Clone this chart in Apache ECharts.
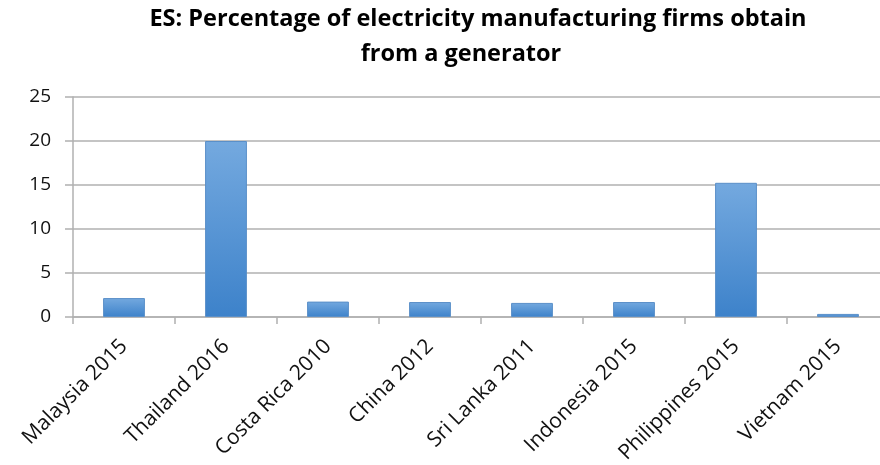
<!DOCTYPE html>
<html>
<head>
<meta charset="utf-8">
<script src="https://cdn.jsdelivr.net/npm/echarts@6/dist/echarts.min.js"></script>
<style>
  html, body { margin: 0; padding: 0; background: #ffffff; }
  #chart { width: 880px; height: 465px; }
</style>
</head>
<body>
<div id="chart"></div>
<script>
// Enterprise Survey: share of electricity that manufacturing firms obtain from a generator (%)
const categories = [
  'Malaysia 2015', 'Thailand 2016', 'Costa Rica 2010', 'China 2012',
  'Sri Lanka 2011', 'Indonesia 2015', 'Philippines 2015', 'Vietnam 2015'
];
const generatorShare = [2.15, 20.0, 1.75, 1.7, 1.6, 1.7, 15.25, 0.35];
const yTicks = [0, 5, 10, 15, 20, 25];

const titleLines = [
  'ES: Percentage of electricity manufacturing firms obtain',
  'from a generator'
];

const chart = echarts.init(document.getElementById('chart'), null, { renderer: 'canvas' });

const gridColor = '#b0b0b0';
const labelFont = '"Open Sans", "Liberation Sans", sans-serif';
const titleStyle = {
  fontFamily: '"Open Sans", sans-serif',
  fontWeight: 'bold',
  fontSize: 23.5,
  color: '#000000'
};

chart.setOption({
  animation: false,
  backgroundColor: '#ffffff',
  title: [
    { text: titleLines[0], left: 473, top: 2, textAlign: 'center', textStyle: titleStyle },
    { text: titleLines[1], left: 456, top: 37, textAlign: 'center', textStyle: titleStyle }
  ],
  grid: {
    left: 73,
    top: 97,
    width: 816,
    height: 220,
    containLabel: false,
    outerBoundsMode: 'none'
  },
  xAxis: {
    type: 'category',
    data: categories,
    boundaryGap: true,
    axisLine: { show: true, lineStyle: { color: gridColor, width: 1.5 } },
    axisTick: { show: true, alignWithLabel: false, length: 7, lineStyle: { color: gridColor, width: 1.5 } },
    axisLabel: {
      interval: 0,
      rotate: 45,
      margin: 26,
      fontFamily: labelFont,
      fontSize: 21,
      color: '#111111'
    },
    splitLine: { show: false }
  },
  yAxis: {
    type: 'value',
    min: yTicks[0],
    max: yTicks[yTicks.length - 1],
    interval: 5,
    axisLine: { show: true, lineStyle: { color: gridColor, width: 1.5 } },
    axisTick: { show: true, length: 8, lineStyle: { color: gridColor, width: 1.5 } },
    axisLabel: {
      margin: 22,
      fontFamily: labelFont,
      fontSize: 19,
      color: '#111111'
    },
    splitLine: { show: true, lineStyle: { color: gridColor, width: 1.5 } }
  },
  series: [{
    type: 'bar',
    data: generatorShare,
    barWidth: '41%',
    itemStyle: {
      color: new echarts.graphic.LinearGradient(0, 0, 0, 1, [
        { offset: 0, color: '#74a9df' },
        { offset: 1, color: '#3d82ca' }
      ]),
      borderColor: '#5a8fc8',
      borderWidth: 1
    }
  }]
});
</script>
</body>
</html>
